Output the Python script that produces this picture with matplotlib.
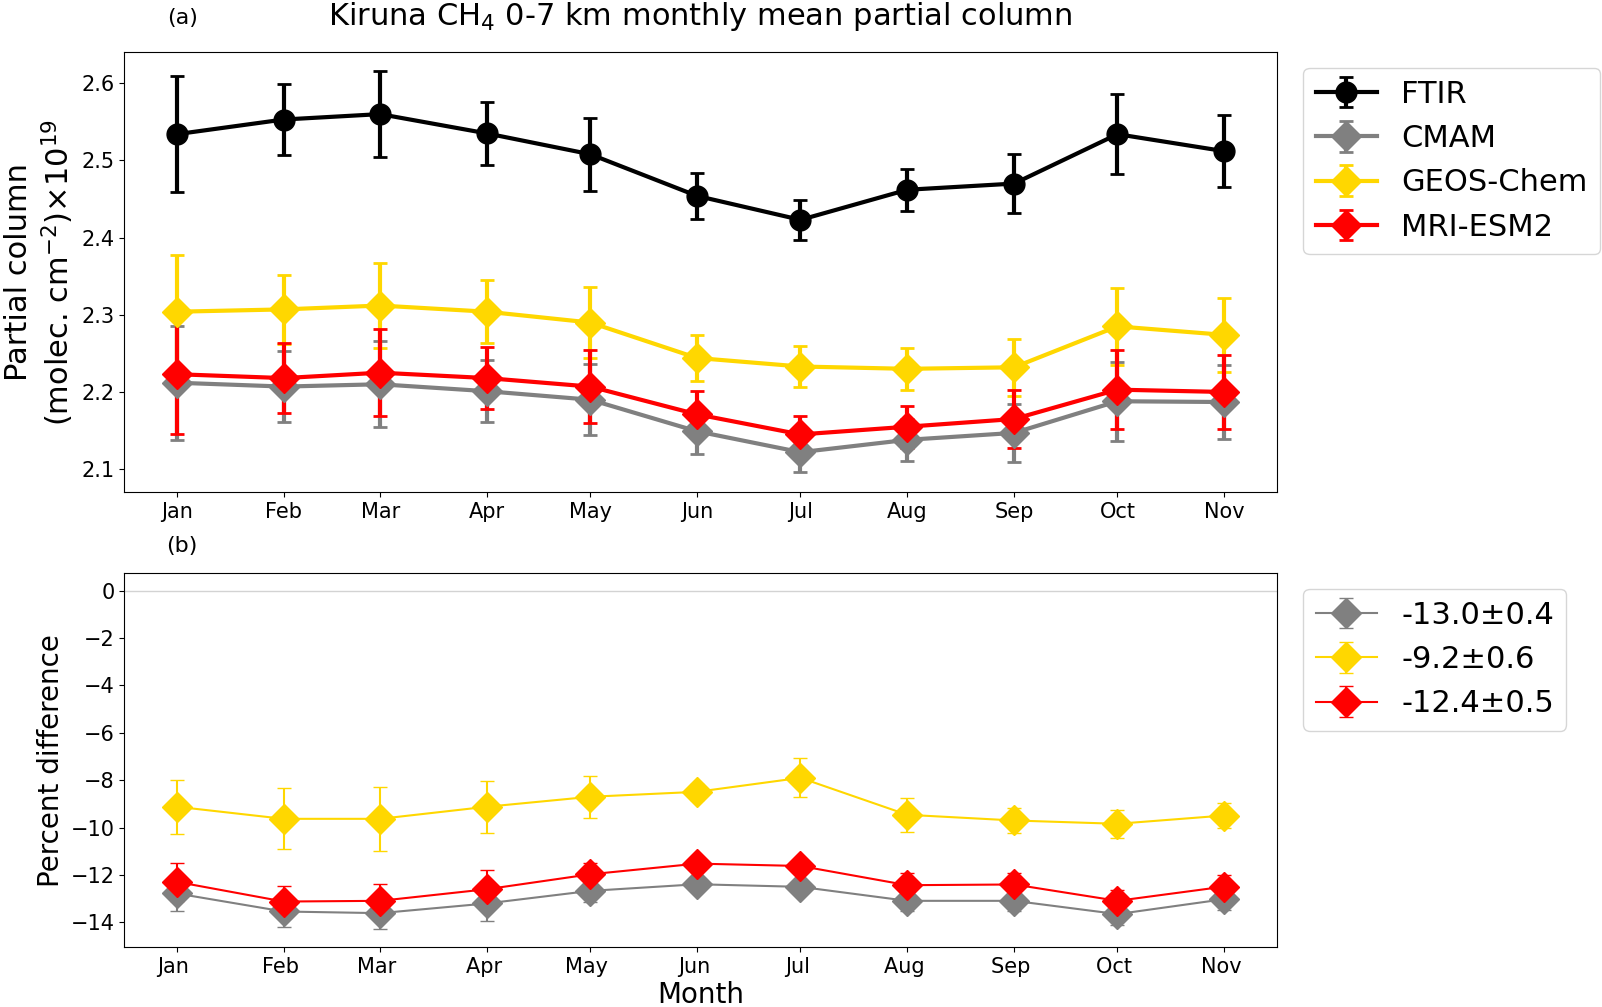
import matplotlib.pyplot as plt
import numpy as np

# mid-month day of year
days = [15, 46, 74, 105, 135, 166, 196, 227, 258, 288, 319]
months = ["Jan", "Feb", "Mar", "Apr", "May", "Jun", "Jul", "Aug", "Sep", "Oct", "Nov"]

# (a) partial columns, x1e19 molec/cm2
ftir = [2.534, 2.553, 2.560, 2.535, 2.508, 2.454, 2.423, 2.462, 2.470, 2.534, 2.512]
ftir_err = [0.075, 0.046, 0.056, 0.041, 0.047, 0.030, 0.026, 0.027, 0.038, 0.052, 0.047]
cmam = [2.212, 2.207, 2.210, 2.201, 2.190, 2.149, 2.122, 2.138, 2.147, 2.188, 2.187]
cmam_err = [0.074, 0.046, 0.056, 0.040, 0.046, 0.029, 0.026, 0.027, 0.038, 0.051, 0.048]
geos = [2.304, 2.307, 2.312, 2.304, 2.290, 2.244, 2.233, 2.230, 2.232, 2.285, 2.274]
geos_err = [0.074, 0.045, 0.055, 0.041, 0.046, 0.030, 0.026, 0.027, 0.037, 0.050, 0.048]
mri = [2.223, 2.218, 2.225, 2.218, 2.207, 2.171, 2.145, 2.155, 2.165, 2.203, 2.200]
mri_err = [0.077, 0.045, 0.056, 0.040, 0.047, 0.030, 0.024, 0.027, 0.037, 0.051, 0.048]

# (b) percent difference model vs FTIR
cmam_pd = [-12.78, -13.54, -13.61, -13.20, -12.67, -12.39, -12.50, -13.09, -13.09, -13.65, -13.02]
cmam_pd_err = [0.73, 0.64, 0.67, 0.73, 0.45, 0.30, 0.30, 0.45, 0.45, 0.45, 0.45]
geos_pd = [-9.12, -9.63, -9.63, -9.12, -8.70, -8.49, -7.90, -9.46, -9.70, -9.84, -9.49]
geos_pd_err = [1.13, 1.28, 1.35, 1.10, 0.88, 0.35, 0.83, 0.71, 0.53, 0.60, 0.53]
mri_pd = [-12.29, -13.12, -13.09, -12.60, -11.97, -11.52, -11.62, -12.43, -12.40, -13.09, -12.49]
mri_pd_err = [0.81, 0.67, 0.70, 0.81, 0.47, 0.30, 0.30, 0.50, 0.47, 0.45, 0.48]

pd_labels = ["-13.0\u00b10.4", "-9.2\u00b10.6", "-12.4\u00b10.5"]

fig = plt.figure(figsize=(16.02, 10.07), dpi=100)
ax1 = fig.add_axes([0.0777, 0.5111, 0.7192, 0.4369])
ax2 = fig.add_axes([0.0777, 0.0593, 0.7192, 0.3714])

top = [(ftir, ftir_err, "black", "o", "FTIR"),
       (cmam, cmam_err, "gray", "D", "CMAM"),
       (geos, geos_err, "gold", "D", "GEOS-Chem"),
       (mri, mri_err, "red", "D", "MRI-ESM2")]
for vals, err, c, m, lab in top:
    ax1.errorbar(days, vals, yerr=err, color=c, marker=m, ms=15, lw=3,
                 elinewidth=3, capsize=5, capthick=2, label=lab)

ax1.set_xticks(days)
ax1.set_xticklabels(months)
ax1.set_xlim(-0.2, 334.2)
ax1.set_ylim(2.070, 2.640)
ax1.tick_params(labelsize=15)
ax1.set_ylabel("Partial column\n(molec. cm$^{-2}$)$\\times$10$^{19}$", fontsize=22)
ax1.set_title("Kiruna CH$_4$ 0-7 km monthly mean partial column", fontsize=22, pad=20)
ax1.text(0.05, 1.077, "(a)", transform=ax1.transAxes, fontsize=16, ha="center", va="center")
ax1.legend(loc="upper left", bbox_to_anchor=(1.01, 1.0), fontsize=22)

ax2.axhline(0, color="lightgray", lw=1)
bottom = [(cmam_pd, cmam_pd_err, "gray"),
          (geos_pd, geos_pd_err, "gold"),
          (mri_pd, mri_pd_err, "red")]
for (vals, err, c), lab in zip(bottom, pd_labels):
    ax2.errorbar(days, vals, yerr=err, color=c, marker="D", ms=15, lw=1.5,
                 elinewidth=1.5, capsize=5, label=lab)

ax2.set_xticks(days)
ax2.set_xticklabels([m + " " for m in months])
ax2.set_xlim(-0.2, 334.2)
ax2.set_ylim(-15.05, 0.73)
ax2.tick_params(labelsize=15)
ax2.set_ylabel("Percent difference", fontsize=20)
ax2.set_xlabel("Month", fontsize=20, labelpad=3)
ax2.text(0.05, 1.073, "(b)", transform=ax2.transAxes, fontsize=16, ha="center", va="center")
ax2.legend(loc="upper left", bbox_to_anchor=(1.01, 1.0), fontsize=22)

plt.savefig("out.png", dpi=100)
